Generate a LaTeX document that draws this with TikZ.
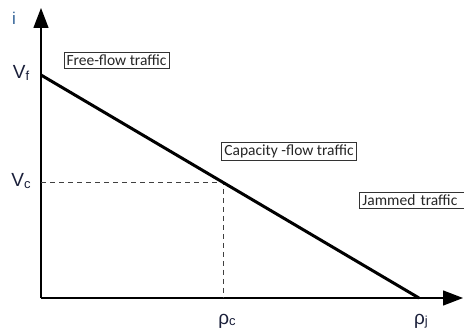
\documentclass[tikz,border=0pt]{standalone}
\usepackage{fontspec}
\setmainfont{Liberation Sans}
\newfontfamily\boxfont{Carlito}
\usetikzlibrary{arrows.meta}
\definecolor{lblblue}{HTML}{2E5F95}
\definecolor{lbldark}{HTML}{1A1F3A}
\tikzset{
  axis/.style={line width=1.3pt,-{Triangle[length=20pt,width=15pt]}},
  curve/.style={line width=3pt},
  guide/.style={line width=1.1pt,draw=black!75,dash pattern=on 5pt off 4pt},
  tag/.style={draw=black!80,line width=0.9pt,fill=white,font=\boxfont\fontsize{15.5pt}{17pt}\selectfont,inner sep=2.5pt,text=black!85},
  lbl/.style={font=\fontsize{19pt}{21pt}\selectfont,text=lbldark,inner sep=0pt}
}
\begin{document}
\begin{tikzpicture}[x=1pt,y=-1pt]
\useasboundingbox (0,0) rectangle (464,331);
\coordinate (O) at (41,298);
\coordinate (ytop) at (41,8);
\coordinate (xend) at (463,298);
\coordinate (vf) at (41,75);
\coordinate (rj) at (419,298);
\coordinate (cp) at (223.7,182.7);
\coordinate (yc) at (41,182.7);
\coordinate (xc) at (223.7,298);
\draw[axis] (O) -- (ytop);
\draw[axis] (O) -- (xend);
\draw[guide] (yc) -- (cp) -- (xc);
\draw[curve] (vf) -- (rj);
\node[font=\fontsize{17pt}{19pt}\selectfont,text=lblblue,inner sep=0pt] (ilab) at (14,18) {i};
\node[lbl] (vflab) at (21,73) {V\raisebox{-2pt}{\fontsize{13pt}{15pt}\selectfont f}};
\node[lbl] (vclab) at (21,181) {V\raisebox{-2pt}{\fontsize{13pt}{15pt}\selectfont c}};
\node[lbl] (rclab) at (227,321) {ρ\raisebox{-1pt}{\fontsize{13pt}{15pt}\selectfont c}};
\node[lbl] (rjlab) at (421,321) {ρ\raisebox{-1pt}{\fontsize{13pt}{15pt}\selectfont j}};
\node[tag] (free) at (116.5,60.5) {Free-flow traffic};
\node[tag] (cap) at (289,151.5) {Capacity -flow traffic};
\node[tag,anchor=west,minimum width=106pt,align=left,text width=100pt] (jam) at (359,200.5) {Jammed traffic};
\end{tikzpicture}
\end{document}
